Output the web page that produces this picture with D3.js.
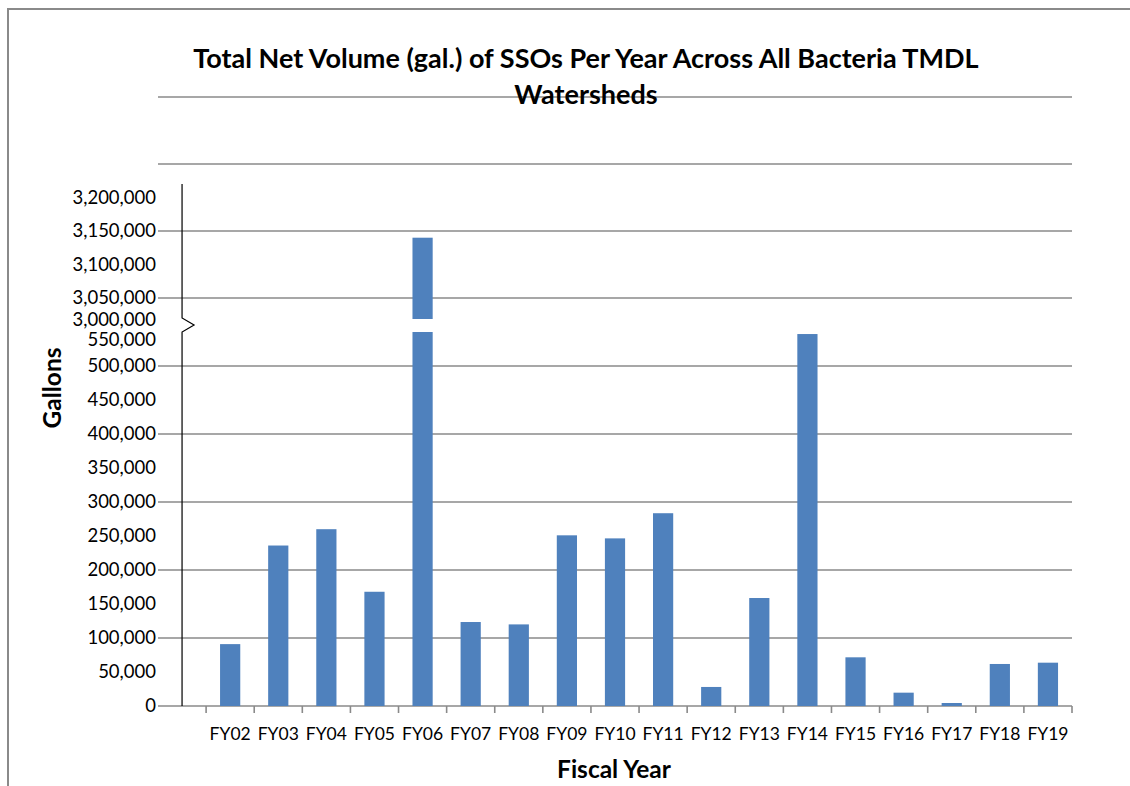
<html>
<head>
<title>SSO volume</title>
<script src="https://cdn.jsdelivr.net/npm/d3@7/dist/d3.min.js"></script>
<style type="text/css">
    body { margin: 0; background: #fff; }
    svg { display: block; font-family: Lato, "Open Sans", sans-serif; }
</style>
</head>
<body>
<svg id="svg"></svg>
<script type="text/javascript">
    // data
    var categories = ["FY02","FY03","FY04","FY05","FY06","FY07","FY08","FY09","FY10",
                      "FY11","FY12","FY13","FY14","FY15","FY16","FY17","FY18","FY19"];
    var gallons = [91000, 236000, 260000, 168000, 3140000, 123500, 120000, 251000, 246500,
                   283500, 28000, 158800, 547000, 71600, 19600, 4400, 61800, 63700];

    // broken y axis: lower part and upper part
    var lowTicks = [0, 50000, 100000, 150000, 200000, 250000, 300000, 350000, 400000, 450000, 500000, 550000];
    var lowGrid = [100000, 200000, 300000, 400000, 500000];
    var highTicks = [3000000, 3050000, 3100000, 3150000, 3200000];
    var highGrid = [3050000, 3150000, 3250000, 3350000];

    var titleLines = ["Total Net Volume (gal.) of SSOs Per Year Across All Bacteria TMDL", "Watersheds"];

    var width = 1130, height = 786;
    var left = 158, right = 1072;
    var breakTop = 319;      // where the upper panel is cut off
    var barColor = "#4F81BD";
    var gridColor = "#8a8a8a";

    var svg = d3.select("svg")
        .attr("width", width)
        .attr("height", height);

    // outer frame (only left and top show in the picture)
    svg.append("path")
        .attr("d", "M8,786 V9 H1130")
        .attr("fill", "none")
        .attr("stroke", gridColor)
        .attr("stroke-width", 2);

    // first slot is empty, the y axis line sits in its middle
    var x = d3.scaleBand()
        .domain([""].concat(categories))
        .range([left, right])
        .paddingInner(0)
        .paddingOuter(0);

    var barW = x.bandwidth() * 0.42;

    var yLow = d3.scaleLinear().domain([0, 550000]).range([706, 332]);
    var yHigh = d3.scaleLinear().domain([3000000, 3200000]).range([331.5, 197.5]);

    var fmt = d3.format(",");

    // gridlines
    svg.append("g").selectAll("line")
        .data(lowGrid.map(yLow).concat(highGrid.map(yHigh)))
        .enter().append("line")
        .attr("x1", left).attr("x2", right)
        .attr("y1", function(d){ return d; })
        .attr("y2", function(d){ return d; })
        .attr("stroke", gridColor)
        .attr("stroke-width", 1.6);

    // x axis
    var xAxis = d3.axisBottom(x).tickSize(0).tickFormat("");
    var gX = svg.append("g")
        .attr("transform", "translate(0," + yLow(0) + ")")
        .call(xAxis);
    gX.select(".domain").attr("stroke", gridColor).attr("stroke-width", 1.6)
        .attr("d", "M" + left + ",0H" + right);

    // category boundary ticks
    var bounds = categories.map(function(c){ return x(c); }).concat([right]);
    svg.append("g").selectAll("line")
        .data(bounds)
        .enter().append("line")
        .attr("x1", function(d){ return d; })
        .attr("x2", function(d){ return d; })
        .attr("y1", yLow(0)).attr("y2", yLow(0) + 7)
        .attr("stroke", gridColor)
        .attr("stroke-width", 1.6);

    // category labels
    svg.append("g").selectAll("text")
        .data(categories)
        .enter().append("text")
        .attr("x", function(d){ return x(d) + x.bandwidth() / 2; })
        .attr("y", 740)
        .attr("text-anchor", "middle")
        .attr("font-size", 17.5)
        .attr("fill", "#000")
        .text(function(d){ return d; });

    // bars: lower panel
    svg.append("g").selectAll("rect")
        .data(gallons)
        .enter().append("rect")
        .attr("x", function(d, i){ return x(categories[i]) + (x.bandwidth() - barW) / 2; })
        .attr("width", barW)
        .attr("y", function(d){ return yLow(Math.min(d, 550000)); })
        .attr("height", function(d){ return yLow(0) - yLow(Math.min(d, 550000)); })
        .attr("fill", barColor);

    // bars: upper panel (only values above the break)
    svg.append("g").selectAll("rect")
        .data(gallons.map(function(d, i){ return {v: d, c: categories[i]}; })
            .filter(function(d){ return d.v > 3000000; }))
        .enter().append("rect")
        .attr("x", function(d){ return x(d.c) + (x.bandwidth() - barW) / 2; })
        .attr("width", barW)
        .attr("y", function(d){ return yHigh(d.v); })
        .attr("height", function(d){ return breakTop - yHigh(d.v); })
        .attr("fill", barColor);

    // y axis line with the break mark
    var axX = x("") + x.bandwidth() / 2;
    svg.append("path")
        .attr("d", "M" + axX + "," + yHigh(3220000) +
                   "V" + (breakTop - 1) +
                   "L" + (axX + 12) + "," + (breakTop + 6) +
                   "L" + axX + "," + yLow(550000) +
                   "V" + yLow(0))
        .attr("fill", "none")
        .attr("stroke", "#000")
        .attr("stroke-width", 1.2);

    // y tick labels
    function tickLabels(ticks, scale, nudge) {
        svg.append("g").selectAll("text")
            .data(ticks)
            .enter().append("text")
            .attr("x", 156)
            .attr("y", function(d){ return scale(d) + nudge(d); })
            .attr("dy", "0.35em")
            .attr("text-anchor", "end")
            .attr("font-size", 18.5)
            .attr("fill", "#000")
            .text(fmt);
    }
    tickLabels(lowTicks, yLow, function(d){ return d === 550000 ? 8 : 0; });
    tickLabels(highTicks, yHigh, function(d){ return d === 3000000 ? -12 : 0; });

    // titles
    svg.append("g").selectAll("text")
        .data(titleLines)
        .enter().append("text")
        .attr("x", 586)
        .attr("y", function(d, i){ return 68 + i * 36; })
        .attr("text-anchor", "middle")
        .attr("font-size", 27)
        .attr("font-weight", "bold")
        .attr("fill", "#000")
        .text(function(d){ return d; });

    svg.append("text")
        .attr("transform", "translate(61,388) rotate(-90)")
        .attr("text-anchor", "middle")
        .attr("font-size", 24.5)
        .attr("font-weight", "bold")
        .text("Gallons");

    svg.append("text")
        .attr("x", 614)
        .attr("y", 778)
        .attr("text-anchor", "middle")
        .attr("font-size", 24.5)
        .attr("font-weight", "bold")
        .text("Fiscal Year");
</script>
</body>
</html>
